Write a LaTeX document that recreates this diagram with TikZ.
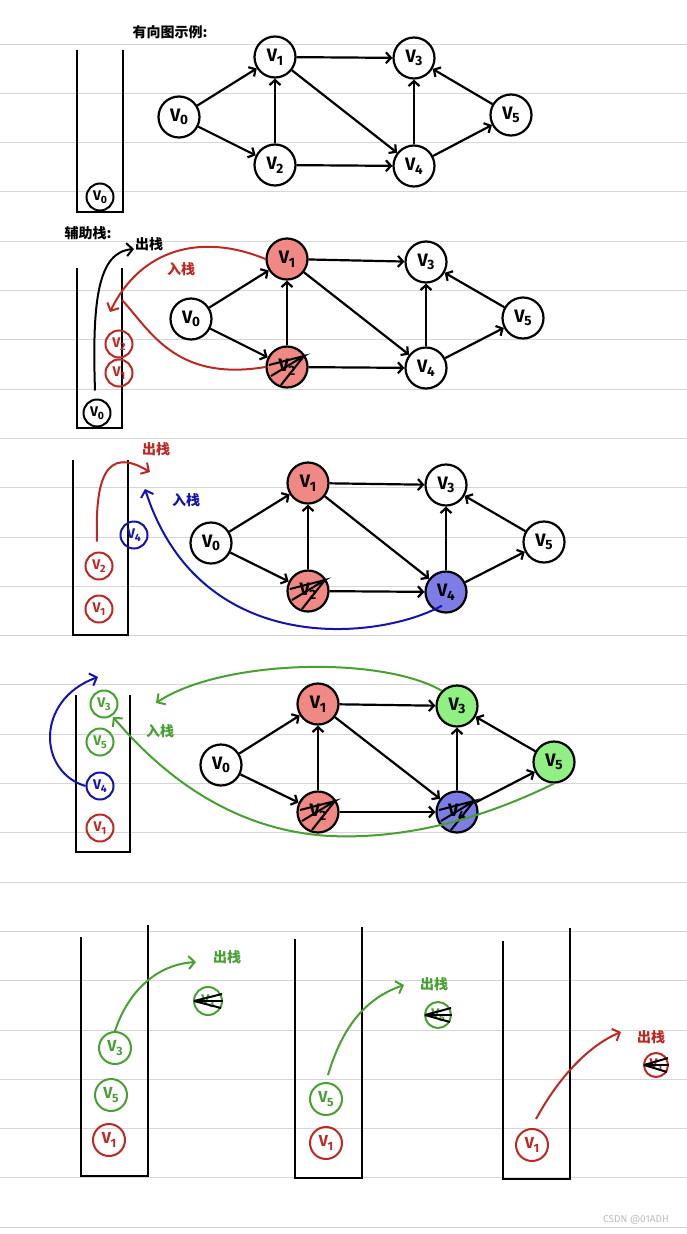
\documentclass[tikz,border=0pt]{standalone}
\usepackage{fontspec}
\setmainfont{Fira Sans}
\newfontfamily\cjk{Noto Sans CJK SC}
\usetikzlibrary{arrows.meta}
\definecolor{rulec}{RGB}{214,214,214}
\definecolor{redfill}{RGB}{240,136,132}
\definecolor{redline}{RGB}{190,40,35}
\definecolor{bluefill}{RGB}{125,125,230}
\definecolor{blueline}{RGB}{20,20,170}
\definecolor{greenfill}{RGB}{145,240,130}
\definecolor{greenline}{RGB}{72,160,50}
\newcommand\vl[1]{\bfseries V\kern-0.02em\raisebox{-0.2em}{\scalebox{0.75}{#1}}}
\newcommand\scribble[1]{%
  \draw[scrib] ([shift={(-18,-2)}]#1.center) -- ([shift={(17,-11)}]#1.center) -- ([shift={(-16,9)}]#1.center);
  \draw[scrib] ([shift={(-6,18)}]#1.center) -- ([shift={(17,-11)}]#1.center);}
\newcommand\fan[2]{%
  \draw[scrib] ([shift={(-#2,0)}]#1.center) -- ([shift={(#2,-7)}]#1.center);
  \draw[scrib] ([shift={(-#2,0)}]#1.center) -- ([shift={(#2+1,0)}]#1.center);
  \draw[scrib] ([shift={(-#2,0)}]#1.center) -- ([shift={(#2-1,7)}]#1.center);}
\newcommand\gedges[1]{%
  \draw[edge] (#1v0) -- (#1v1);
  \draw[edge] (#1v0) -- (#1v2);
  \draw[edge] (#1v2) -- (#1v1);
  \draw[edge] (#1v1) -- (#1v3);
  \draw[edge] (#1v1) -- (#1v4);
  \draw[edge] (#1v2) -- (#1v4);
  \draw[edge] (#1v4) -- (#1v3);
  \draw[edge] (#1v4) -- (#1v5);
  \draw[edge] (#1v5) -- (#1v3);}
\tikzset{
  gnode/.style={circle, draw, line width=2.2pt, minimum size=41pt, inner sep=0pt, font=\fontsize{18}{18}\selectfont},
  snode/.style={circle, draw, line width=2pt, minimum size=27pt, inner sep=0pt, font=\fontsize{14}{14}\selectfont},
  edge/.style={line width=2.2pt, -{Straight Barb[length=5pt,width=11pt,line width=2.2pt]}},
  barb/.style={-{Straight Barb[length=6pt,width=13pt,line width=2pt]}},
  scrib/.style={line width=2pt, black},
  wall/.style={line width=2.4pt, black},
  curve/.style={line width=2pt},
  lab/.style={font=\cjk\bfseries\fontsize{14}{14}\selectfont, inner sep=0pt},
}
\begin{document}
\begin{tikzpicture}[x=1pt,y=-1pt]
\useasboundingbox (0,0) rectangle (687,1234);
\fill[white] (0,0) rectangle (687,1234);
\foreach \k in {0,...,24} \draw[rulec, line width=1.3pt] (0,{round(43.5+49.3*\k)+0.5}) -- (687,{round(43.5+49.3*\k)+0.5});

% ---------- graph 1 ----------
\node[lab] (t1) at (170,32) {有向图示例:};
\draw[wall] (77,50) -- (77,212) -- (123,212) -- (123,50);
\node[snode] (s1v0) at (100,197) {\vl{0}};
\node[gnode] (av0) at (179,117) {\vl{0}};
\node[gnode] (av1) at (275,57) {\vl{1}};
\node[gnode] (av3) at (414,58) {\vl{3}};
\node[gnode] (av2) at (275,165) {\vl{2}};
\node[gnode] (av4) at (414,166) {\vl{4}};
\node[gnode] (av5) at (511,115) {\vl{5}};
\gedges{a}

% ---------- graph 2 ----------
\node[lab] (t2) at (88,233) {辅助栈:};
\draw[wall] (77,268) -- (77,428) -- (122,428) -- (122,268);
\node[snode] (s2v0) at (97,413) {\vl{0}};
\node[snode, redline] (s2v2) at (119,344) {\vl{2}};
\node[snode, redline] (s2v1) at (119,373) {\vl{1}};
\node[gnode, fill=redfill] (bv1) at (287,259) {\vl{1}};
\node[gnode] (bv3) at (426,262) {\vl{3}};
\node[gnode] (bv0) at (191,319) {\vl{0}};
\node[gnode] (bv5) at (523,318) {\vl{5}};
\node[gnode, fill=redfill] (bv2) at (287,367) {\vl{2}};
\node[gnode] (bv4) at (426,368) {\vl{4}};
\gedges{b}
\scribble{bv2}
\node[lab] (o2) at (149,244) {出栈};
\coordinate (o2tip) at (134,249);
\draw[curve, barb] (s2v0.north) ++(-2,-8) .. controls (92,300) and (98,252) .. (o2tip);
\node[lab, redline] (i2) at (181,269) {入栈};
\coordinate (i2tip) at (110,312);
\draw[curve, redline, barb] (bv1.west) .. controls (200,232) and (140,250) .. (i2tip);
\draw[curve, redline] (bv2.west) .. controls (175,382) and (150,330) .. (122,300);

% ---------- graph 3 ----------
\draw[wall] (73,460) -- (73,635) -- (128,635) -- (128,460);
\node[snode, redline] (s3v2) at (99,566) {\vl{2}};
\node[snode, redline] (s3v1) at (99,609) {\vl{1}};
\node[snode, blueline] (s3v4) at (134,535) {\vl{4}};
\node[gnode, fill=redfill] (cv1) at (308,483) {\vl{1}};
\node[gnode] (cv3) at (446,485) {\vl{3}};
\node[gnode] (cv0) at (211,543) {\vl{0}};
\node[gnode] (cv5) at (544,542) {\vl{5}};
\node[gnode, fill=redfill] (cv2) at (308,591) {\vl{2}};
\node[gnode, fill=bluefill] (cv4) at (446,592) {\vl{4}};
\gedges{c}
\scribble{cv2}
\node[lab, redline] (o3) at (156,449) {出栈};
\coordinate (o3tip) at (150,472);
\draw[curve, redline, barb] (s3v2.north) ++(-2,-10) .. controls (95,480) and (105,445) .. (o3tip);
\node[lab, blueline] (i3) at (186,500) {入栈};
\coordinate (i3tip) at (145,489);
\draw[curve, blueline, barb] (cv4.south) ++(-4,-8) .. controls (380,640) and (200,660) .. (i3tip);

% ---------- graph 4 ----------
\draw[wall] (76,695) -- (76,852) -- (130,852) -- (130,695);
\node[snode, greenline] (s4v3) at (104,704) {\vl{3}};
\node[snode, greenline] (s4v5) at (100,742) {\vl{5}};
\node[snode, blueline] (s4v4) at (100,786) {\vl{4}};
\node[snode, redline] (s4v1) at (100,828) {\vl{1}};
\node[gnode, fill=redfill] (dv1) at (318,704) {\vl{1}};
\node[gnode, fill=greenfill] (dv3) at (457,706) {\vl{3}};
\node[gnode] (dv0) at (221,765) {\vl{0}};
\node[gnode, fill=greenfill] (dv5) at (554,762) {\vl{5}};
\node[gnode, fill=redfill] (dv2) at (318,812) {\vl{2}};
\node[gnode, fill=bluefill] (dv4) at (457,812) {\vl{4}};
\gedges{d}
\scribble{dv2}
\scribble{dv4}
\node[lab, greenline] (i4) at (160,731) {入栈};
\coordinate (g4tip) at (156,703);
\draw[curve, greenline, barb] (dv3.north west) .. controls (380,655) and (220,660) .. (g4tip);
\coordinate (g4tipb) at (113,717);
\draw[curve, greenline, barb] (dv5.south) .. controls (500,810) and (420,840) .. (330,836) .. controls (220,830) and (150,760) .. (g4tipb);
\coordinate (b4tip) at (98,677);
\draw[curve, blueline, barb] (s4v4.west) .. controls (38,772) and (35,700) .. (b4tip);

% ---------- bottom stacks ----------
\draw[wall] (81,937) -- (81,1176) -- (148,1176) -- (148,925);
\node[snode, greenline, minimum size=32pt, font=\fontsize{16}{16}\selectfont] (e1v3) at (115,1048) {\vl{3}};
\node[snode, greenline, minimum size=32pt, font=\fontsize{16}{16}\selectfont] (e1v5) at (111,1095) {\vl{5}};
\node[snode, redline, minimum size=32pt, font=\fontsize{16}{16}\selectfont] (e1v1) at (109,1140) {\vl{1}};
\node[snode, greenline, minimum size=28pt, text=greenline] (x1) at (208,1001) {\vl{3}};
\fan{x1}{14}
\coordinate (o5a) at (196,962);
\draw[curve, greenline, barb] (e1v3.north) .. controls (125,1000) and (150,965) .. (o5a);
\node[lab, greenline] (t5a) at (227,957) {出栈};

\draw[wall] (295,939) -- (295,1178) -- (362,1178) -- (362,927);
\node[snode, greenline, minimum size=32pt, font=\fontsize{16}{16}\selectfont] (e2v5) at (326,1099) {\vl{5}};
\node[snode, redline, minimum size=32pt, font=\fontsize{16}{16}\selectfont] (e2v1) at (326,1143) {\vl{1}};
\node[snode, greenline, minimum size=26pt, text=greenline] (x2) at (438,1015) {\vl{5}};
\fan{x2}{13}
\coordinate (o5b) at (404,985);
\draw[curve, greenline, barb] (e2v5.north) ++(2,-7) .. controls (340,1035) and (360,1000) .. (o5b);
\node[lab, greenline] (t5b) at (434,984) {出栈};

\draw[wall] (503,941) -- (503,1179) -- (570,1179) -- (570,928);
\node[snode, redline, minimum size=32pt, font=\fontsize{16}{16}\selectfont] (e3v1) at (532,1145) {\vl{1}};
\node[snode, redline, minimum size=24pt, text=redline] (x3) at (656,1065) {\vl{1}};
\fan{x3}{12}
\coordinate (o5c) at (621,1032);
\draw[curve, redline, barb] (e3v1.north) ++(4,-9) .. controls (560,1075) and (590,1045) .. (o5c);
\node[lab, redline] (t5c) at (651,1037) {出栈};

\node[font=\fontsize{10}{10}\selectfont, text=black!25] (wm) at (636,1220) {CSDN @01ADH};
\end{tikzpicture}
\end{document}
